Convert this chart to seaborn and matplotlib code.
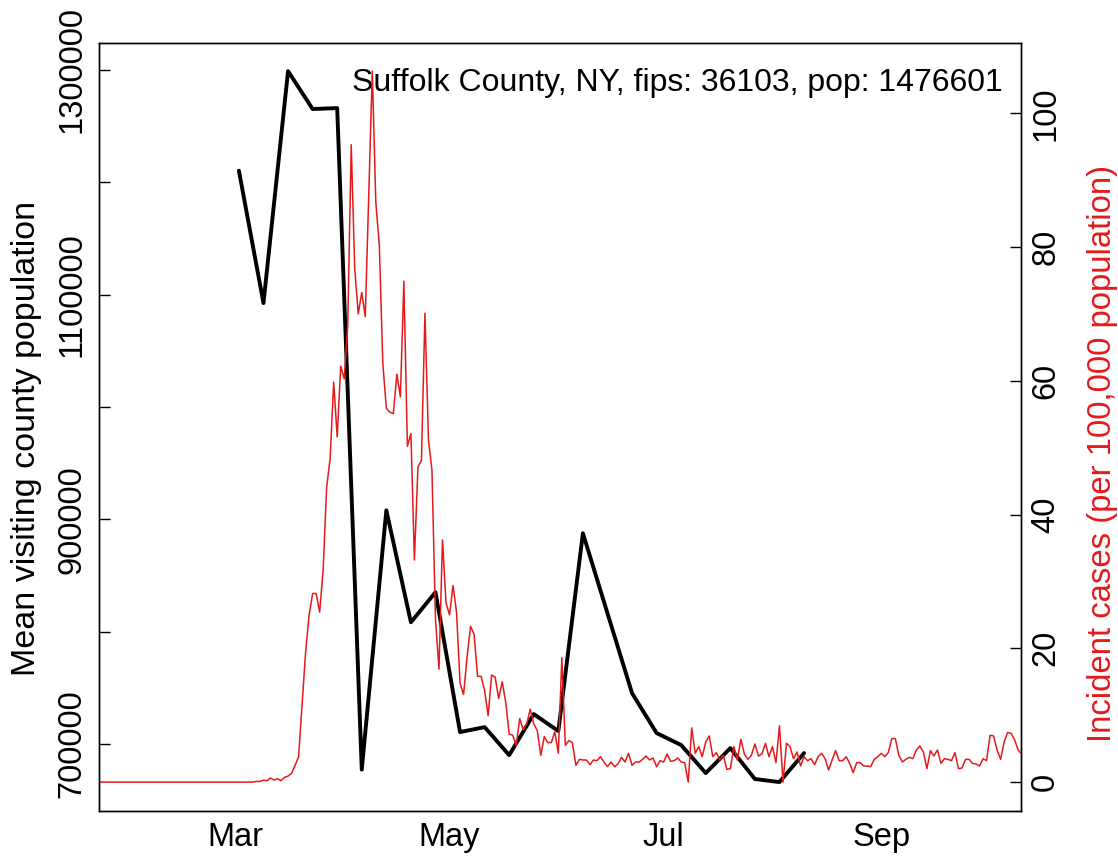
import matplotlib
matplotlib.use("Agg")
import matplotlib.pyplot as plt
import seaborn as sns
import pandas as pd

# weekly mean visiting county population (black line)
week_dates = ["2020-03-02", "2020-03-09", "2020-03-16", "2020-03-23", "2020-03-30",
              "2020-04-06", "2020-04-13", "2020-04-20", "2020-04-27", "2020-05-04",
              "2020-05-11", "2020-05-18", "2020-05-25", "2020-06-01", "2020-06-08",
              "2020-06-15", "2020-06-22", "2020-06-29", "2020-07-06", "2020-07-13",
              "2020-07-20", "2020-07-27", "2020-08-03", "2020-08-10"]
visitors = [1210200, 1092400, 1298800, 1265100, 1265900,
            677300, 908000, 808400, 835100, 710700,
            715100, 690200, 726700, 711600, 887600,
            816400, 745300, 709800, 699100, 674200,
            696400, 668900, 666200, 692000]

# daily incident cases per 100,000 (red line), starting 2020-01-22
case_start = "2020-01-22"
cases_jan_feb = [0, 0, 0, 0, 0, 0, 0, 0, 0, 0,
                 0, 0, 0, 0, 0, 0, 0, 0, 0, 0,
                 0, 0, 0, 0, 0, 0, 0, 0, 0, 0,
                 0, 0, 0, 0, 0, 0, 0, 0, 0, 0,
                 0, 0, 0, 0, 0]
cases_rest = [0.1, 0.1, 0.3, 0.2, 0.6, 0.3, 0.5, 0.2, 0.7, 0.9,
              1.3, 2.5, 3.8, 11.6, 19.4, 25.0, 28.2, 28.2, 25.4, 31.7,
              44.1, 48.4, 59.8, 51.6, 62.2, 60.3, 68.3, 95.3, 76.7, 70.0,
              73.2, 69.6, 88.1, 106.3, 86.7, 80.3, 62.6, 55.9, 55.3, 55.1,
              61.0, 57.6, 74.9, 50.2, 52.1, 33.2, 47.1, 48.1, 70.1, 51.2,
              46.6, 24.4, 16.9, 36.2, 26.8, 25.0, 29.4, 25.4, 14.8, 13.1,
              18.7, 23.3, 22.1, 15.8, 15.8, 13.7, 9.9, 16.0, 15.7, 12.5,
              15.0, 12.0, 7.2, 7.0, 5.5, 9.5, 7.8, 8.7, 10.9, 8.7,
              7.7, 4.0, 6.8, 5.9, 5.9, 7.5, 4.3, 18.6, 5.5, 6.2,
              5.9, 2.5, 3.4, 3.3, 3.3, 2.6, 3.3, 3.2, 3.8, 3.0,
              2.3, 3.0, 2.3, 2.7, 3.7, 3.0, 4.3, 2.5, 3.0, 3.0,
              3.4, 3.9, 3.3, 3.6, 2.3, 3.2, 3.0, 4.2, 3.1, 3.2,
              3.6, 3.0, 2.9, 0.0, 8.1, 4.3, 5.3, 3.8, 6.0, 6.9,
              3.8, 4.4, 3.3, 4.0, 1.9, 2.0, 5.3, 3.3, 6.4, 4.2,
              3.4, 4.0, 5.7, 3.9, 4.2, 5.8, 3.8, 5.3, 2.9, 8.4,
              0.0, 5.8, 5.3, 3.5, 4.5, 2.4, 3.8, 3.2, 3.5, 2.6,
              3.8, 4.3, 3.5, 1.8, 3.3, 4.7, 3.2, 3.2, 3.8, 2.8,
              1.4, 2.9, 2.9, 2.4, 2.4, 2.3, 3.4, 3.8, 4.3, 3.8,
              4.4, 6.5, 6.5, 4.0, 3.0, 3.4, 3.7, 3.5, 4.8, 5.4,
              4.5, 2.0, 4.7, 3.9, 4.8, 2.8, 3.5, 3.4, 3.2, 4.4,
              2.0, 2.1, 3.4, 3.4, 2.8, 2.7, 2.4, 3.5, 3.2, 7.0,
              6.9, 4.8, 3.4, 6.0, 7.4, 7.3, 6.3, 4.8, 4.2]
cases = cases_jan_feb + cases_rest

month_ticks = ["2020-03-01", "2020-05-01", "2020-07-01", "2020-09-01"]
month_labels = ["Mar", "May", "Jul", "Sep"]
left_ticks = [700000, 800000, 900000, 1000000, 1100000, 1200000, 1300000]
left_labels = ["700000", "", "900000", "", "1100000", "", "1300000"]
right_ticks = [0, 20, 40, 60, 80, 100]

title_text = "Suffolk County, NY, fips: 36103, pop: 1476601"
red = "#E41A1C"

mob = pd.DataFrame({"date": pd.to_datetime(week_dates), "visitors": visitors})
inc = pd.DataFrame({"date": pd.date_range(case_start, periods=len(cases), freq="D"),
                    "cases": cases})

sns.set_style("white")
plt.rcParams["font.family"] = ["Liberation Sans", "DejaVu Sans"]
plt.rcParams["text.color"] = "black"
plt.rcParams["axes.labelcolor"] = "black"
plt.rcParams["xtick.color"] = "black"
plt.rcParams["ytick.color"] = "black"
fs_tick = 23.5
fs_title = 23

fig = plt.figure(figsize=(11.18, 8.56), dpi=100)
ax = fig.add_axes([98.5 / 1118, 1 - 810.5 / 856, 922 / 1118, 767.8 / 856])
ax2 = ax.twinx()

sns.lineplot(data=mob, x="date", y="visitors", ax=ax, color="black", linewidth=2.8)
sns.lineplot(data=inc, x="date", y="cases", ax=ax2, color=red, linewidth=1.1)

ax.set_xlim(pd.Timestamp("2020-01-22"), pd.Timestamp("2020-10-10 16:00"))
ax.set_ylim(640900, 1324100)
ax2.set_ylim(-4.25, 110.55)

ax.set_xticks(pd.to_datetime(month_ticks))
ax.set_xticklabels(month_labels)
ax.set_yticks(left_ticks)
ax.set_yticklabels(left_labels)
ax2.set_yticks(right_ticks)
ax2.set_yticklabels([str(t) for t in right_ticks])

ax.tick_params(axis="x", direction="in", length=8, width=1, pad=8, labelsize=fs_tick)
ax.tick_params(axis="y", direction="in", length=8, width=1, pad=8, labelsize=fs_tick)
ax2.tick_params(axis="y", direction="in", length=8, width=1, pad=7, labelsize=fs_tick)
for lab in ax.get_yticklabels() + ax2.get_yticklabels():
    lab.set_rotation(90)
    lab.set_va("center")

ax.set_xlabel("")
ax.set_ylabel("Mean visiting county population", fontsize=24.5)
ax.yaxis.set_label_coords(-0.061, 0.485)
ax2.set_ylabel("Incident cases (per 100,000 population)", fontsize=23.7, color=red)
ax2.yaxis.set_label_coords(1.072, 0.465)

for a in (ax, ax2):
    for s in a.spines.values():
        s.set_linewidth(1.0)
        s.set_color("black")

ax.text(0.981, 0.9475, title_text, transform=ax.transAxes, ha="right", va="center",
        fontsize=fs_title)

fig.savefig("out.png", dpi=100)
